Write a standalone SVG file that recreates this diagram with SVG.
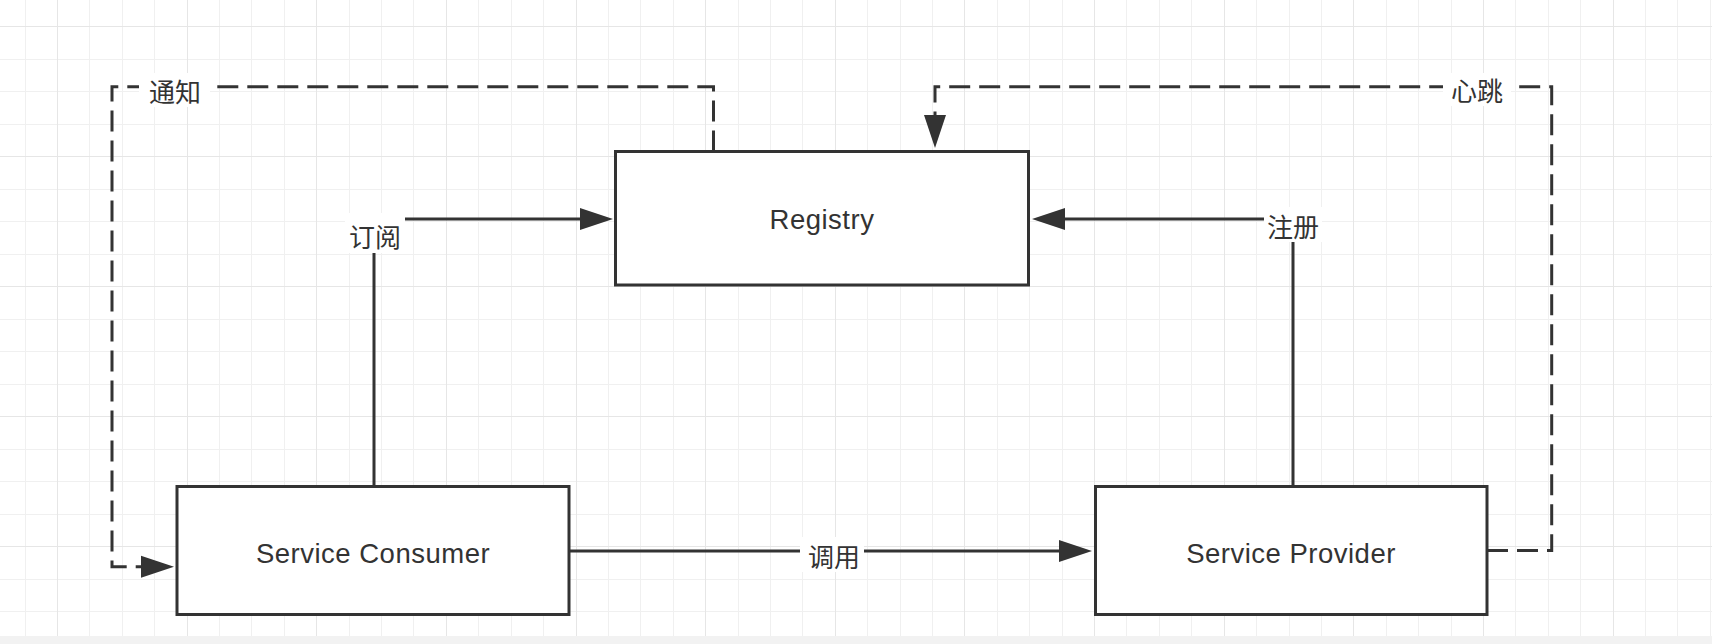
<svg xmlns="http://www.w3.org/2000/svg" width="1712" height="644" viewBox="0 0 1712 644">
  <defs>
    <style>
      .grid-minor { stroke: #f0f0f0; stroke-width: 1; fill: none; }
      .grid-major { stroke: #e6e6e6; stroke-width: 1; fill: none; }
      .node rect { fill: #ffffff; stroke: #333333; stroke-width: 3; }
      .node text { font-family: "Liberation Sans", Arial, sans-serif; font-size: 27.5px; letter-spacing: 0.5px; fill: #333333; text-anchor: middle; }
      .edge { fill: none; stroke: #333333; stroke-width: 3; }
      .dashed { stroke-dasharray: 21 9; }
      .lbl-bg { fill: #ffffff; stroke: none; }
      .lbl { font-family: "Noto Sans CJK SC", "Noto Sans", sans-serif; font-size: 26px; fill: #333333; text-anchor: middle; dominant-baseline: central; }
    </style>
    <marker id="arrow" markerUnits="userSpaceOnUse" markerWidth="34" markerHeight="24" viewBox="0 0 34 24" refX="13" refY="12" orient="auto">
      <path d="M0,1 L33,12 L0,23 Z" fill="#333333"/>
    </marker>
  </defs>

  <rect x="0" y="0" width="1712" height="644" fill="#ffffff"/>
  <g id="grid">
    <path class="grid-minor" d="M25.5 0V636 M89.5 0V636 M122.5 0V636 M154.5 0V636 M219.5 0V636 M251.5 0V636 M284.5 0V636 M349.5 0V636 M381.5 0V636 M413.5 0V636 M478.5 0V636 M511.5 0V636 M543.5 0V636 M608.5 0V636 M640.5 0V636 M673.5 0V636 M738.5 0V636 M770.5 0V636 M802.5 0V636 M867.5 0V636 M900.5 0V636 M932.5 0V636 M997.5 0V636 M1029.5 0V636 M1062.5 0V636 M1126.5 0V636 M1159.5 0V636 M1191.5 0V636 M1256.5 0V636 M1289.5 0V636 M1321.5 0V636 M1386.5 0V636 M1418.5 0V636 M1451.5 0V636 M1515.5 0V636 M1548.5 0V636 M1580.5 0V636 M1645.5 0V636 M1677.5 0V636 M1710.5 0V636 M0 59.5H1712 M0 91.5H1712 M0 124.5H1712 M0 189.5H1712 M0 221.5H1712 M0 254.5H1712 M0 319.5H1712 M0 351.5H1712 M0 384.5H1712 M0 449.5H1712 M0 481.5H1712 M0 514.5H1712 M0 579.5H1712 M0 611.5H1712"/>
    <path class="grid-major" d="M57.5 0V636 M187.5 0V636 M316.5 0V636 M446.5 0V636 M576.5 0V636 M705.5 0V636 M835.5 0V636 M964.5 0V636 M1094.5 0V636 M1224.5 0V636 M1353.5 0V636 M1483.5 0V636 M1613.5 0V636 M0 26.5H1712 M0 156.5H1712 M0 286.5H1712 M0 416.5H1712 M0 546.5H1712"/>
    <rect x="0" y="636" width="1712" height="8" fill="#f2f2f2"/>
  </g>

  <g id="connectors">
    <!-- 订阅: Consumer -> Registry -->
    <path class="edge" d="M374 486.5 V219 H593" marker-end="url(#arrow)"/>
    <!-- 注册: Provider -> Registry -->
    <path class="edge" d="M1293 486.5 V219 H1052" marker-end="url(#arrow)"/>
    <!-- 调用: Consumer -> Provider -->
    <path class="edge" d="M569 551 H1072" marker-end="url(#arrow)"/>
    <!-- 通知: Registry -> Consumer -->
    <path class="edge dashed" d="M713.5 151.5 V86.7 H112 V566.7 H154" marker-end="url(#arrow)"/>
    <!-- 心跳: Provider -> Registry -->
    <path class="edge dashed" d="M1487 550.5 H1551.7 V86.7 H935 V128" marker-end="url(#arrow)"/>

    <g id="label-subscribe">
      <rect class="lbl-bg" x="345" y="213" width="60" height="40"/>
      <text class="lbl" x="375" y="235">订阅</text>
    </g>
    <g id="label-register">
      <rect class="lbl-bg" x="1264" y="207" width="58" height="35"/>
      <text class="lbl" x="1293" y="225">注册</text>
    </g>
    <g id="label-invoke">
      <rect class="lbl-bg" x="800" y="537" width="64" height="35"/>
      <text class="lbl" x="834" y="555">调用</text>
    </g>
    <g id="label-notify">
      <rect class="lbl-bg" x="139" y="73" width="71" height="34"/>
      <text class="lbl" x="175" y="90">通知</text>
    </g>
    <g id="label-heartbeat">
      <rect class="lbl-bg" x="1443" y="73" width="68" height="33"/>
      <text class="lbl" x="1477" y="89">心跳</text>
    </g>
  </g>

  <g id="registry" class="node">
    <rect x="615.5" y="151.5" width="413" height="133.5"/>
    <text x="822" y="228.5">Registry</text>
  </g>
  <g id="service-consumer" class="node">
    <rect x="177" y="486.5" width="392" height="128"/>
    <text x="373" y="563">Service Consumer</text>
  </g>
  <g id="service-provider" class="node">
    <rect x="1095.5" y="486.5" width="391.5" height="128"/>
    <text x="1291" y="562.7">Service Provider</text>
  </g>
</svg>
